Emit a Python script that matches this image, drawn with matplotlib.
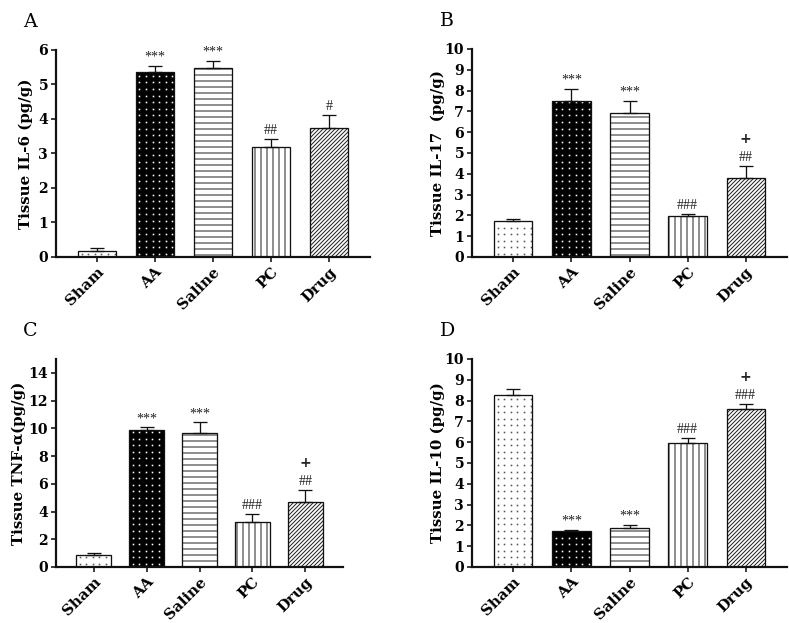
import numpy as np
import matplotlib
matplotlib.use('Agg')
import matplotlib.pyplot as plt

groups = ['Sham', 'AA', 'Saline', 'PC', 'Drug']

il6_mean = [0.18, 5.35, 5.49, 3.19, 3.75]
il6_err = [0.07, 0.20, 0.20, 0.22, 0.36]
il6_sig = ['', '***', '***', '##', '#']
il6_plus = ['', '', '', '', '']

il17_mean = [1.72, 7.52, 6.91, 1.96, 3.78]
il17_err = [0.10, 0.58, 0.61, 0.13, 0.59]
il17_sig = ['', '***', '***', '###', '##']
il17_plus = ['', '', '', '', '+']

tnf_mean = [0.89, 9.85, 9.65, 3.23, 4.68]
tnf_err = [0.15, 0.24, 0.80, 0.58, 0.87]
tnf_sig = ['', '***', '***', '###', '##']
tnf_plus = ['', '', '', '', '+']

il10_mean = [8.26, 1.72, 1.86, 5.95, 7.62]
il10_err = [0.28, 0.08, 0.18, 0.27, 0.24]
il10_sig = ['', '***', '***', '###', '###']
il10_plus = ['', '', '', '', '+']

# bar looks: fill, hatch (None -> dotted texture), hatch/dot colour
fills = ['white', 'black', 'white', 'white', 'white']
hatches = [None, None, '--', '||', '//////']
hatch_cols = ['#555555', 'white', '#222222', '#222222', '#222222']

plt.rcParams['hatch.linewidth'] = 1.0

W, H = 789, 623
DPI = 72
BW = 0.66
fig = plt.figure(figsize=(W / DPI, H / DPI), dpi=DPI)


def panel(box, letter, ylabel, mean, err, sig, plus, ymax, yticks, lab_off):
    l, r, t, b = box
    ax = fig.add_axes([l / W, 1 - b / H, (r - l) / W, (b - t) / H])
    x = np.arange(len(groups))
    ppx = (r - l) / 5.42      # pixels per x unit
    ppy = (b - t) / ymax      # pixels per y unit
    for i in range(len(groups)):
        fill = ax.bar(x[i], mean[i], width=BW, color=fills[i], edgecolor=hatch_cols[i],
                      hatch=hatches[i], linewidth=0, zorder=2)[0]
        if hatches[i] is None:
            # small dot texture, clipped to the bar
            gx = np.arange(x[i] - BW / 2 + 3.5 / ppx, x[i] + BW / 2, 6.6 / ppx)
            gy = np.arange(3.0 / ppy, mean[i], 6.6 / ppy)
            X, Y = np.meshgrid(gx, gy)
            dots, = ax.plot(X.ravel(), Y.ravel(), ls='none', marker='s', ms=1.6,
                            mew=0, color=hatch_cols[i], zorder=2.5)
            dots.set_clip_path(fill)
        ax.bar(x[i], mean[i], width=BW, fill=False, edgecolor='#111111',
               linewidth=1.3, zorder=3)
    ax.errorbar(x, mean, yerr=[np.zeros(len(mean)), err], fmt='none',
                ecolor='#111111', elinewidth=1.3, capsize=7, capthick=1.3, zorder=4)
    for i in range(len(groups)):
        top = mean[i] + err[i]
        if sig[i]:
            ax.annotate(sig[i], (x[i], top), xytext=(0, 2), textcoords='offset points',
                        ha='center', va='bottom', fontsize=14,
                        family='Liberation Serif', color='#222222')
        if plus[i]:
            ax.annotate(plus[i], (x[i], top), xytext=(0, 20), textcoords='offset points',
                        ha='center', va='bottom', fontsize=14, fontweight='bold',
                        family='DejaVu Sans', color='#222222')
    ax.set_xlim(-0.71, 4.71)
    ax.set_ylim(0, ymax)
    ax.set_yticks(yticks)
    ax.set_xticks(x)
    ax.set_xticklabels(groups, rotation=45, ha='right', rotation_mode='anchor')
    for s in ['top', 'right']:
        ax.spines[s].set_visible(False)
    for s in ['left', 'bottom']:
        ax.spines[s].set_linewidth(2.2)
        ax.spines[s].set_color('#111111')
    ax.tick_params(axis='both', direction='out', length=5, width=1.6, color='#111111',
                   pad=3)
    ax.tick_params(axis='x', labelsize=15)
    ax.tick_params(axis='y', labelsize=14)
    for lab in ax.get_xticklabels() + ax.get_yticklabels():
        lab.set_family('DejaVu Serif')
        lab.set_fontweight('bold')
    ax.set_ylabel(ylabel, family='DejaVu Serif', fontweight='bold', fontsize=15, va='center')
    ax.yaxis.set_label_coords(-lab_off / (r - l), 0.5)
    fig.text((l - 33) / W, 1 - (t - 23) / H, letter, family='DejaVu Serif', fontsize=19,
             ha='left', va='baseline')
    return ax


panel((56, 370, 50, 257), 'A', 'Tissue IL-6 (pg/g)', il6_mean, il6_err, il6_sig, il6_plus,
      6, range(0, 7), 30)
panel((472, 787, 49, 257), 'B', 'Tissue IL-17  (pg/g)', il17_mean, il17_err, il17_sig,
      il17_plus, 10, range(0, 11), 34)
panel((56, 343, 359, 567), 'C', 'Tissue TNF-α(pg/g)', tnf_mean, tnf_err, tnf_sig, tnf_plus,
      15, range(0, 15, 2), 37)
panel((472, 787, 359, 567), 'D', 'Tissue IL-10 (pg/g)', il10_mean, il10_err, il10_sig,
      il10_plus, 10, range(0, 11), 34)

fig.savefig('out.png', dpi=DPI, facecolor='white')
